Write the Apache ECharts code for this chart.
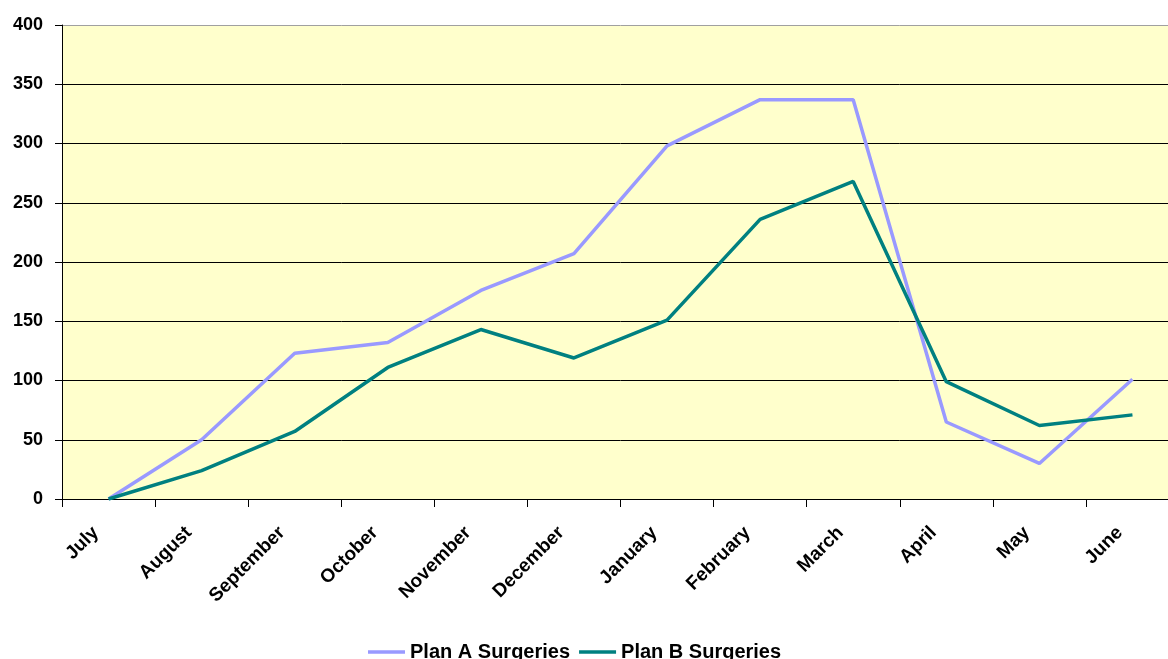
<!DOCTYPE html>
<html>
<head>
<meta charset="utf-8">
<script src="https://cdn.jsdelivr.net/npm/echarts@6/dist/echarts.min.js"></script>
<style>
  html, body { margin: 0; padding: 0; background: #fff; overflow: hidden; }
  /* the plot runs past the right edge of the picture, so the canvas is a bit wider */
  #chart { width: 1179px; height: 659px; }
</style>
</head>
<body>
<div id="chart"></div>
<script>
const months = ['July', 'August', 'September', 'October', 'November', 'December',
  'January', 'February', 'March', 'April', 'May', 'June']
const planA = [0, 50, 123, 132, 176, 207, 298, 337, 337, 65, 30, 101]
const planB = [0, 24, 57, 111, 143, 119, 151, 236, 268, 99, 62, 71]
const yTicks = [0, 50, 100, 150, 200, 250, 300, 350, 400]

const font = '"Liberation Sans", Arial, sans-serif'

// grid lines black, top border of the plot area is grey
const splitColors = yTicks.map((v, i) => i === yTicks.length - 1 ? '#a0a0a0' : '#000')

const chart = echarts.init(document.getElementById('chart'))
chart.setOption({
  animation: false,
  backgroundColor: '#fff',
  grid: {
    left: 62, top: 25, bottom: 160, right: 0,
    show: true,
    backgroundColor: '#FFFFCC',
    borderWidth: 0
  },
  legend: {
    bottom: -8,
    left: 363,
    itemWidth: 37,
    itemHeight: 14,
    itemGap: 9,
    icon: 'path://M0,5.5 L37,5.5 L37,9 L0,9 Z',
    textStyle: { fontFamily: font, fontWeight: 'bold', fontSize: 20, color: '#000' },
    data: ['Plan A Surgeries', 'Plan B Surgeries']
  },
  xAxis: {
    type: 'category',
    data: months,
    boundaryGap: true,
    axisLine: { lineStyle: { color: '#000', width: 1 } },
    axisTick: { show: true, length: 8, lineStyle: { color: '#000' } },
    axisLabel: {
      rotate: 45, margin: 18, interval: 0,
      padding: [0, 18, 0, 0],
      fontFamily: font, fontWeight: 'bold', fontSize: 19, color: '#000'
    }
  },
  yAxis: {
    type: 'value',
    min: 0, max: 400, interval: 50,
    axisLine: { show: true, lineStyle: { color: '#000' } },
    axisTick: { show: true, length: 7, lineStyle: { color: '#000' } },
    splitLine: { show: true, lineStyle: { color: splitColors, width: 1 } },
    axisLabel: {
      margin: 19,
      formatter: v => yTicks.includes(v) ? String(v) : '',
      fontFamily: font, fontWeight: 'bold', fontSize: 18, color: '#000'
    }
  },
  series: [
    {
      name: 'Plan A Surgeries', type: 'line', data: planA,
      symbol: 'none', lineStyle: { color: '#9999FF', width: 3.5 },
      itemStyle: { color: '#9999FF' }
    },
    {
      name: 'Plan B Surgeries', type: 'line', data: planB,
      symbol: 'none', lineStyle: { color: '#008080', width: 3.5 },
      itemStyle: { color: '#008080' }
    }
  ]
})
</script>
</body>
</html>
